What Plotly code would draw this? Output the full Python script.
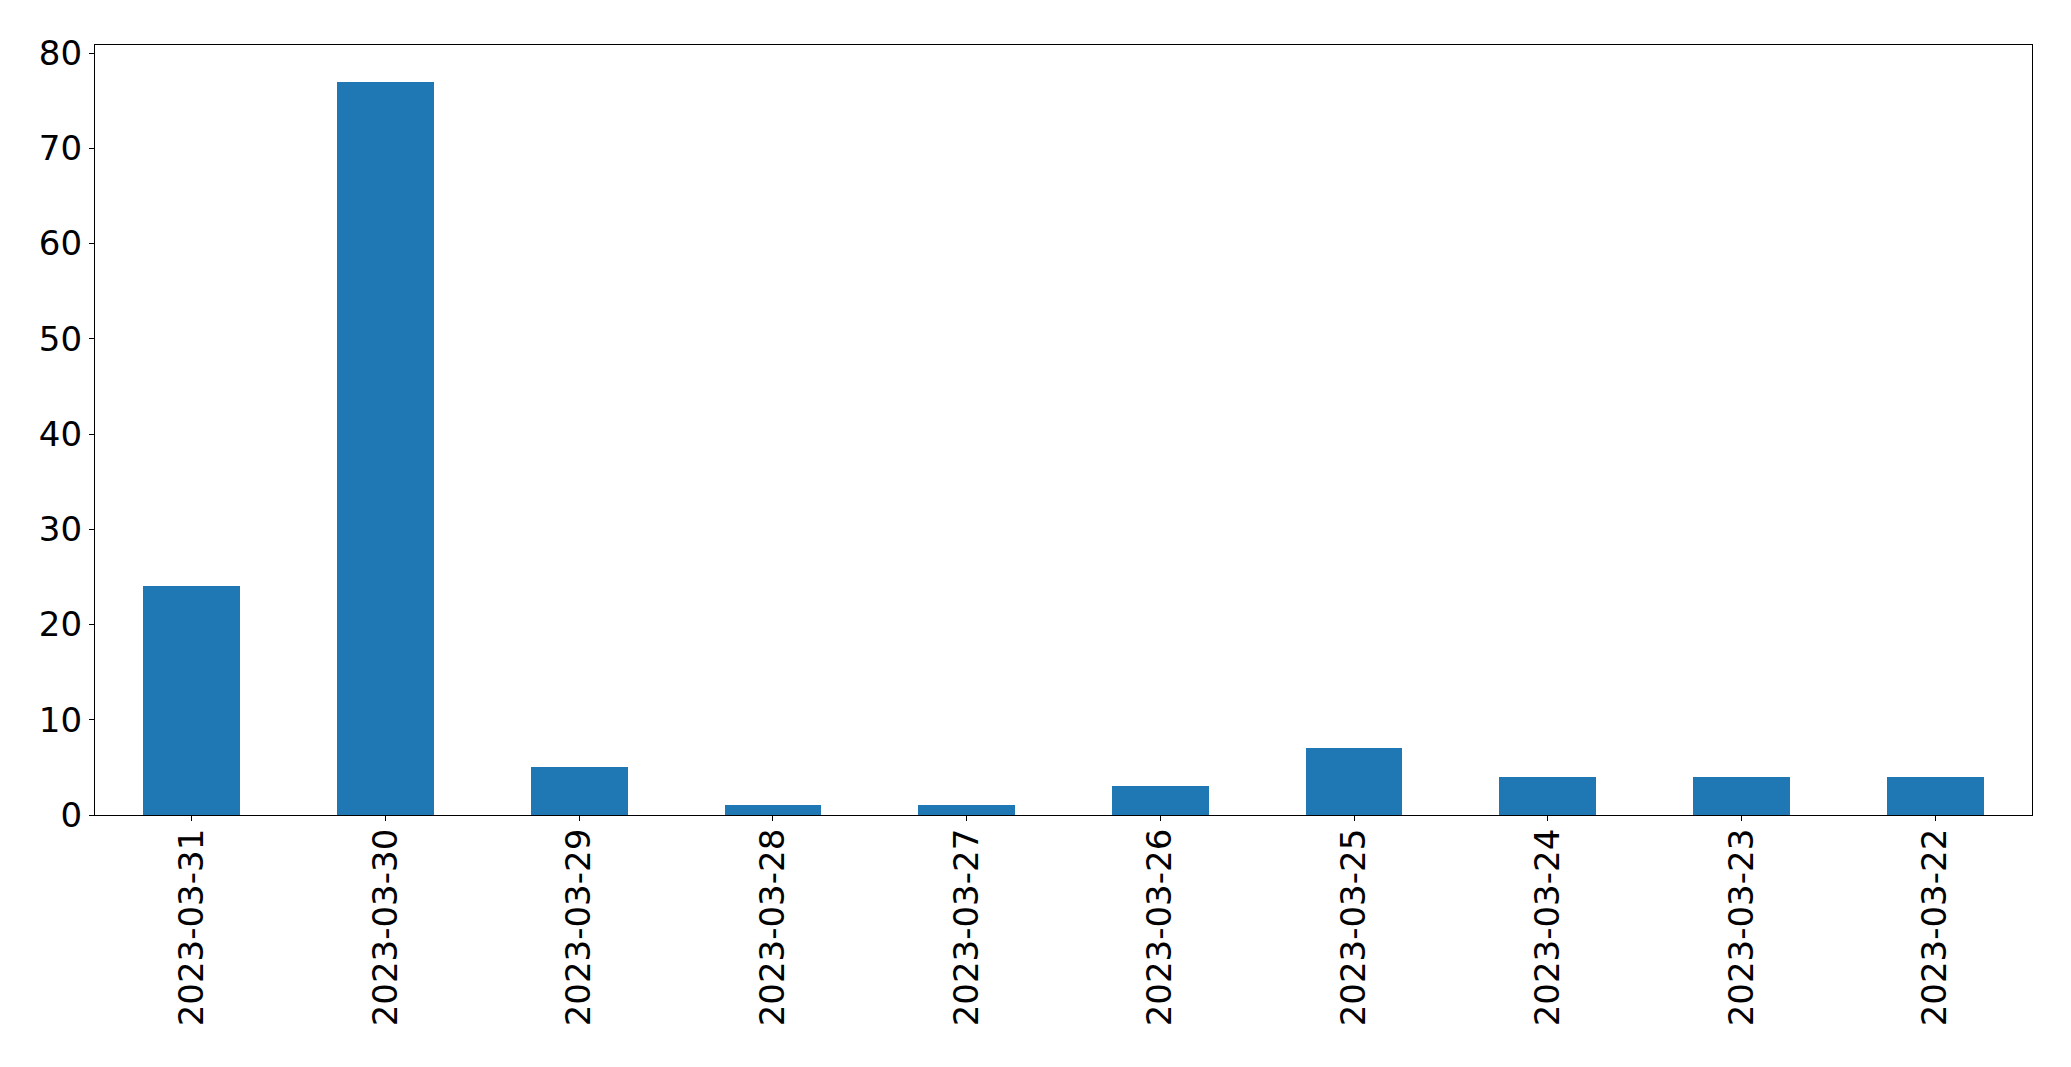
import plotly.graph_objects as go

dates = ["2023-03-31", "2023-03-30", "2023-03-29", "2023-03-28", "2023-03-27",
         "2023-03-26", "2023-03-25", "2023-03-24", "2023-03-23", "2023-03-22"]
counts = [24, 77, 5, 1, 1, 3, 7, 4, 4, 4]
y_ticks = [0, 10, 20, 30, 40, 50, 60, 70, 80]

fig = go.Figure(go.Bar(x=dates, y=counts, width=0.5, marker=dict(color="#1f77b4", line=dict(width=0))))

font = dict(family="DejaVu Sans", size=34, color="black")
# page body has an 8px margin, so the figure is offset by (8, 8)
fig.update_layout(
    width=2063, height=1059,
    margin=dict(l=86.5, r=39.3, t=37, b=252, pad=0),
    paper_bgcolor="white", plot_bgcolor="white",
    showlegend=False,
    font=font,
    bargap=0,
)
fig.update_xaxes(
    type="category", range=[-0.5, 9.5],
    tickangle=-90, tickfont=font,
    showline=True, linecolor="black", linewidth=1.3, mirror=True,
    ticks="outside", ticklen=5, tickwidth=1.3, tickcolor="black",
    showgrid=False, zeroline=False, ticklabelstandoff=-6,
)
fig.update_yaxes(
    range=[0, 80.85], tickvals=y_ticks, tickfont=font,
    showline=True, linecolor="black", linewidth=1.3, mirror=True,
    ticks="outside", ticklen=5, tickwidth=1.3, tickcolor="black",
    showgrid=False, zeroline=False, ticklabelstandoff=0,
)
fig.write_html("out.html")
